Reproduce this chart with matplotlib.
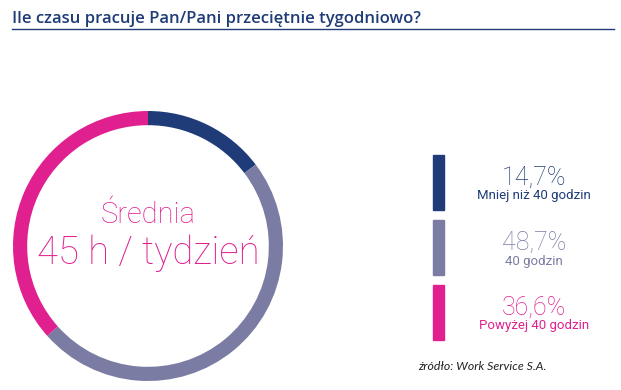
"""
Ile czasu pracuje Pan/Pani przecietnie tygodniowo - ring chart
"""

import matplotlib.pyplot as plt
from matplotlib.patches import Rectangle

shares = [14.7, 48.7, 36.6]
pct_labels = ['14,7%', '48,7%', '36,6%']
cat_labels = ['Mniej niż 40 godzin', '40 godzin', 'Powyżej 40 godzin']
colors = ['#1f3c78', '#7a7ca3', '#e0208f']

W, H = 621, 390
fig = plt.figure(figsize=(W/100, H/100), dpi=100)
plt.rcParams['font.family'] = ['Lato', 'DejaVu Sans']
light = ['Roboto', 'Lato', 'DejaVu Sans']

# title + rule
fig.text(12/W, 1 - 19/H, 'Ile czasu pracuje Pan/Pani przeciętnie tygodniowo?',
         color='#1f3c78', fontsize=12, fontweight='semibold', family=['Open Sans', 'DejaVu Sans'],
         va='center', ha='left')
fig.add_artist(plt.Line2D([12/W, 614/W], [1 - 29/H, 1 - 29/H], color='#1f3c78', lw=1))

#------------------------------------------------------------------------------
# ring
cx, cy, r = 148, 246, 135
ax = fig.add_axes([(cx - r)/W, (H - cy - r)/H, 2*r/W, 2*r/H])
ax.pie(shares, colors=colors, startangle=90, counterclock=False, radius=1,
       wedgeprops=dict(width=0.105, edgecolor='none'))
ax.set_xlim(-1, 1)
ax.set_ylim(-1, 1)
ax.axis('off')

ax.text(0, 0.23, 'Średnia', color='#e0208f', fontsize=21, family=light, fontweight='light',
        ha='center', va='center')
ax.text(0, -0.05, '45 h / tydzień', color='#e0208f', fontsize=27.5, family=light,
        fontweight='light', ha='center', va='center')

#------------------------------------------------------------------------------
# legend blocks
tops = [155, 220, 285]
for i in range(3):
    t = tops[i]
    fig.add_artist(Rectangle((433/W, 1 - (t + 55)/H), 11/W, 55/H,
                             color=colors[i], transform=fig.transFigure))
    fig.text(534/W, 1 - (t + 23)/H, pct_labels[i], color=colors[i], fontsize=18,
             family=light, fontweight='light', ha='center', va='center')
    fig.text(534/W, 1 - (t + 41)/H, cat_labels[i], color=colors[i], fontsize=9.5,
             family=light, ha='center', va='center')

fig.text(418/W, 1 - 366/H, 'źródło: Work Service S.A.', fontstyle='italic',
         fontsize=8.8, color='#222222', va='center', ha='left')

fig.savefig('out.png', dpi=100)
